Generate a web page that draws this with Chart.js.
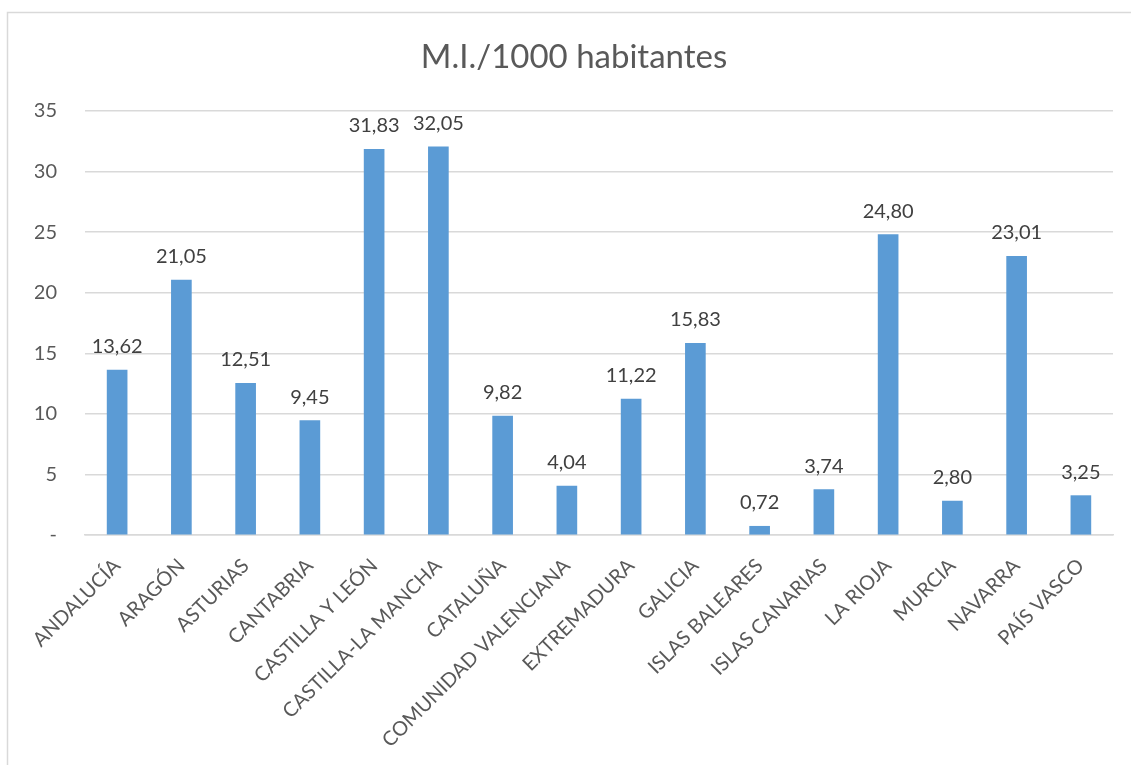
<!DOCTYPE html>
<html>
<head>
<meta charset="utf-8">
<script src="https://cdn.jsdelivr.net/npm/chart.js@4"></script>
<style>
  html, body { margin: 0; padding: 0; background: #fff; }
  #wrap { position: relative; width: 1131px; height: 765px; }
</style>
</head>
<body>
<div id="wrap"><canvas id="c" width="1131" height="765"></canvas></div>
<script>
// Comunidades autónomas
const categories = [
  'ANDALUCÍA', 'ARAGÓN', 'ASTURIAS', 'CANTABRIA', 'CASTILLA Y LEÓN',
  'CASTILLA-LA MANCHA', 'CATALUÑA', 'COMUNIDAD VALENCIANA', 'EXTREMADURA',
  'GALICIA', 'ISLAS BALEARES', 'ISLAS CANARIAS', 'LA RIOJA', 'MURCIA',
  'NAVARRA', 'PAÍS VASCO'
];
// M.I. por cada 1000 habitantes
const values = [
  13.62, 21.05, 12.51, 9.45, 31.83, 32.05, 9.82, 4.04,
  11.22, 15.83, 0.72, 3.74, 24.80, 2.80, 23.01, 3.25
];
const titleText = 'M.I./1000 habitantes';
const yMin = 0, yMax = 35, yStep = 5;

const FONT = 'Lato, "Open Sans", sans-serif';
const fmt = v => v.toFixed(2).replace('.', ',');

// Outer frame and title
const framePlugin = {
  id: 'frame',
  beforeDraw(chart) {
    const ctx = chart.ctx;
    ctx.save();
    ctx.strokeStyle = '#d9d9d9';
    ctx.lineWidth = 1.5;
    ctx.beginPath();
    ctx.moveTo(7.5, chart.height);
    ctx.lineTo(7.5, 12.5);
    ctx.lineTo(chart.width, 12.5);
    ctx.stroke();
    ctx.fillStyle = '#595959';
    ctx.font = '33px ' + FONT;
    ctx.textAlign = 'center';
    ctx.textBaseline = 'alphabetic';
    ctx.fillText(titleText, 574, 68);
    ctx.restore();
  }
};

// Value labels above each bar
const valueLabels = {
  id: 'valueLabels',
  afterDatasetsDraw(chart) {
    const ctx = chart.ctx;
    const meta = chart.getDatasetMeta(0);
    ctx.save();
    ctx.fillStyle = '#404040';
    ctx.font = '20px ' + FONT;
    ctx.textAlign = 'center';
    ctx.textBaseline = 'alphabetic';
    meta.data.forEach((bar, i) => {
      ctx.fillText(fmt(values[i]), bar.x, bar.y - 17);
    });
    ctx.restore();
  }
};

new Chart(document.getElementById('c'), {
  type: 'bar',
  data: {
    labels: categories,
    datasets: [{
      data: values,
      backgroundColor: '#5b9bd5',
      borderWidth: 0,
      barThickness: 20
    }]
  },
  options: {
    responsive: false,
    animation: false,
    layout: { padding: { top: 111, left: 35, right: 18, bottom: 0 } },
    plugins: { legend: { display: false }, title: { display: false }, tooltip: { enabled: false } },
    scales: {
      x: {
        offset: true,
        grid: { display: false },
        border: { display: true, color: '#d9d9d9', width: 1.5 },
        ticks: {
          color: '#595959',
          font: { family: FONT, size: 20 },
          maxRotation: 45, minRotation: 45,
          autoSkip: false,
          padding: 11
        },
        afterFit(scale) { scale.height = 230; }
      },
      y: {
        min: yMin, max: yMax,
        grid: { color: '#d9d9d9', lineWidth: 1.5, drawTicks: false },
        border: { display: false },
        ticks: {
          stepSize: yStep,
          color: '#595959',
          font: { family: FONT, size: 20 },
          padding: 28,
          callback: v => (v === 0 ? '-' : String(v))
        },
        afterFit(scale) { scale.width = 50; }
      }
    }
  },
  plugins: [framePlugin, valueLabels]
});
</script>
</body>
</html>
